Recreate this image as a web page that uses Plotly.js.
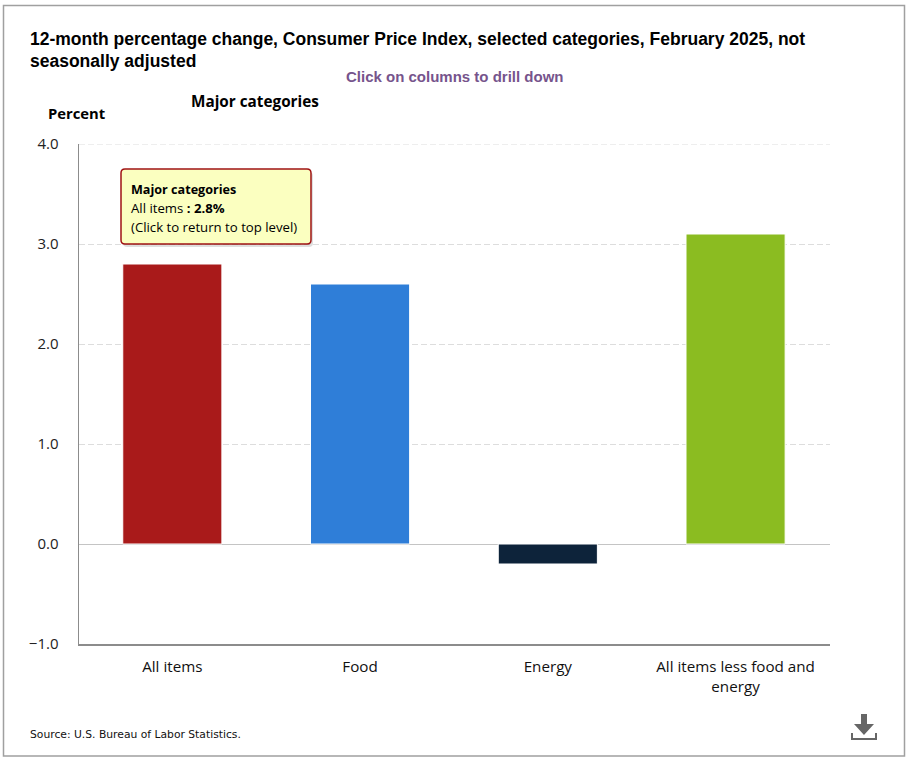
<!DOCTYPE html>
<html>
<head>
<meta charset="utf-8">
<script src="https://cdn.plot.ly/plotly-3.0.1.min.js"></script>
<style>html,body{margin:0;padding:0;background:#fff;overflow:hidden}#chart{width:909px;height:761px}</style>
</head>
<body>
<div id="chart"></div>
<script>
const categories = ["All items", "Food", "Energy", "All items less food and energy"];
const tickLabels = ["All items", "Food", "Energy", "All items less food and<br>energy"];
const values = [2.8, 2.6, -0.2, 3.1];
const barColors = ["#a91a1a", "#2f7ed8", "#0d233a", "#8bbc21"];
const yTicks = [-1, 0, 1, 2, 3, 4];

const W = 909, H = 761, L = 79, R = 830, T = 144, B = 644;
const px = x => (x - L) / (R - L);
const py = y => (B - y) / (B - T);
const pathPx = s => s.replace(/(-?[\d.]+),(-?[\d.]+)/g, (m, a, b) => px(+a).toFixed(5) + "," + py(+b).toFixed(5));
const paperShape = o => Object.assign({xref: "paper", yref: "paper", layer: "above"}, o);
const note = (text, x, y, size, family, color, anchor, extra) => Object.assign({
  text, x: px(x), y: py(y), xref: "paper", yref: "paper", showarrow: false,
  xanchor: anchor || "left", yanchor: "middle", align: anchor || "left",
  borderpad: 0, borderwidth: 0,
  font: {size, family, color}
}, extra || {});

const box = "M125,169 L307,169 Q311,169 311,173 L311,240 Q311,244 307,244 L125,244 Q121,244 121,240 L121,173 Q121,169 125,169 Z";
const shadow = "M127,172 L309,172 Q313,172 313,176 L313,243 Q313,247 309,247 L127,247 Q123,247 123,243 L123,176 Q123,172 127,172 Z";

const layout = {
  width: W, height: H,
  margin: {l: L, r: W - R, t: T, b: H - B, pad: 0},
  paper_bgcolor: "#ffffff", plot_bgcolor: "#ffffff",
  showlegend: false, bargap: 0.472,
  title: {
    text: "12-month percentage change, Consumer Price Index, selected categories, February 2025, not<br>seasonally adjusted",
    x: 30 / W, xanchor: "left", xref: "container",
    y: 1 - 44.5 / H, yanchor: "middle",
    font: {family: "Liberation Sans, Arial, sans-serif", size: 17.5, color: "#000000", weight: 700}
  },
  xaxis: {
    type: "category", categoryorder: "array", categoryarray: categories,
    tickvals: categories, ticktext: tickLabels,
    range: [-0.497, 3.503], fixedrange: true,
    showgrid: false, zeroline: false,
    showline: true, linecolor: "#8c8c8c", linewidth: 1.5,
    ticks: "outside", ticklen: 8, tickcolor: "rgba(0,0,0,0)",
    tickfont: {family: "Open Sans, sans-serif", size: 15.2, color: "#111111"}
  },
  yaxis: {
    range: [-1, 4], tickvals: yTicks, tickformat: ".1f", fixedrange: true,
    showgrid: true, gridcolor: "#dddddd", griddash: "6px,3px", gridwidth: 1,
    zeroline: true, zerolinecolor: "#c4c4c4", zerolinewidth: 1,
    showline: true, linecolor: "#8c8c8c", linewidth: 1.5,
    ticks: "outside", ticklen: 16, tickcolor: "rgba(0,0,0,0)",
    tickfont: {family: "Open Sans, sans-serif", size: 15, color: "#222222"}
  },
  shapes: [
    {type: "line", xref: "paper", yref: "y", x0: 0, x1: 1, y0: 4, y1: 4, line: {color: "#dddddd", width: 1, dash: "6px,3px"}},
    paperShape({type: "rect", x0: px(3.5), x1: px(904.5), y0: py(5.5), y1: py(756), line: {color: "#a0a0a0", width: 1.5}, fillcolor: "rgba(0,0,0,0)"}),
    paperShape({type: "path", path: pathPx(shadow), fillcolor: "rgba(0,0,0,0.13)", line: {width: 0}}),
    paperShape({type: "path", path: pathPx(box), fillcolor: "#fbffc0", line: {color: "#a01414", width: 1.5}}),
    paperShape({type: "path", path: pathPx("M861,714 L867,714 L867,724 L874,724 L864,735 L854,724 L861,724 Z"), fillcolor: "#666666", line: {width: 0}}),
    paperShape({type: "path", path: pathPx("M851,733 L853,733 L853,738 L875,738 L875,733 L877,733 L877,740 L851,740 Z"), fillcolor: "#666666", line: {width: 0}})
  ],
  annotations: [
    note("Click on columns to drill down", 454.5, 76, 15, "Liberation Sans, Arial, sans-serif", "#76548c", "center", {font: {size: 15, family: "Liberation Sans, Arial, sans-serif", color: "#76548c", weight: 700}}),
    note("<b>Major categories</b>", 191, 101, 15.3, "Open Sans, sans-serif", "#000000"),
    note("<b>Percent</b>", 48, 113, 14.8, "Open Sans, sans-serif", "#000000"),
    note("<b>Major categories</b>", 131, 189, 12.6, "Open Sans, sans-serif", "#000000"),
    note("All items <b>: 2.8%</b>", 131, 208, 13.2, "Open Sans, sans-serif", "#000000"),
    note("(Click to return to top level)", 131, 227, 13.2, "Open Sans, sans-serif", "#000000"),
    note("Source: U.S. Bureau of Labor Statistics.", 30, 734, 10.75, "DejaVu Sans, sans-serif", "#111111")
  ]
};

Plotly.newPlot("chart", [{
  type: "bar", x: categories, y: values,
  marker: {color: barColors, line: {color: "#ffffff", width: 1}},
  hoverinfo: "none", cliponaxis: false
}], layout, {displayModeBar: false, staticPlot: true});
</script>
</body>
</html>
